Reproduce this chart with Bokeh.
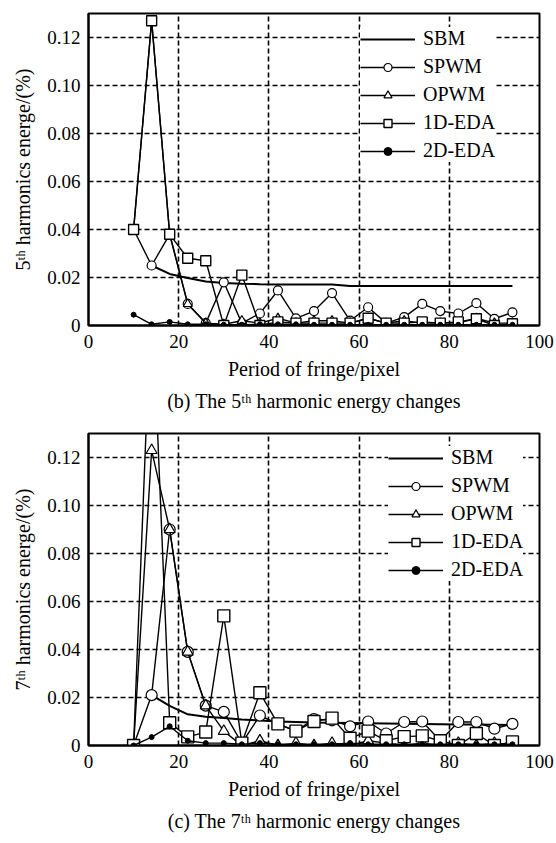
from bokeh.plotting import figure
from bokeh.layouts import column
from bokeh.models import Range1d, FixedTicker, Title, NumeralTickFormatter, LegendItem, Legend
from bokeh.embed import file_html
from bokeh.resources import INLINE

FONT = "'Liberation Serif', 'Times New Roman', serif"

# ---------------- data ----------------
X = [10, 14, 18, 22, 26, 30, 34, 38, 42, 46, 50, 54, 58, 62, 66, 70, 74, 78, 82, 86, 90, 94]
X_SBM = [14, 18, 22, 26, 30, 34, 38, 42, 46, 50, 54, 58, 62, 66, 70, 74, 78, 82, 86, 90, 94]
SERIES = ["SBM", "SPWM", "OPWM", "1D-EDA", "2D-EDA"]
X_TICKS = [0, 20, 40, 60, 80, 100]
Y_TICKS = [0, 0.02, 0.04, 0.06, 0.08, 0.10, 0.12]

# (b) 5th harmonic
sbm5 = [0.025, 0.0215, 0.0198, 0.0183, 0.0177, 0.0174, 0.0172, 0.0171, 0.0171, 0.0171, 0.0171,
        0.0165, 0.0165, 0.0165, 0.0165, 0.0165, 0.0165, 0.0165, 0.0165, 0.0165, 0.0165]
spwm5 = [0.040, 0.025, 0.038, 0.009, 0.001, 0.018, 0.001, 0.005, 0.0146, 0.003, 0.006,
         0.0135, 0.002, 0.0076, 0.001, 0.0035, 0.009, 0.006, 0.005, 0.0093, 0.0028, 0.0055]
opwm5 = [0.040, 0.127, 0.038, 0.009, 0.001, 0.0005, 0.002, 0.001, 0.003, 0.001, 0.002,
         0.002, 0.001, 0.003, 0.001, 0.002, 0.001, 0.001, 0.001, 0.003, 0.001, 0.001]
eda1_5 = [0.040, 0.127, 0.038, 0.028, 0.027, 0.000, 0.021, 0.000, 0.0015, 0.001, 0.001,
          0.001, 0.001, 0.003, 0.001, 0.001, 0.0015, 0.001, 0.0015, 0.0028, 0.000, 0.0007]
eda2_5 = [0.0045, 0.0005, 0.0015, 0.0005, 0.0005, 0.0003, 0.0003, 0.0005, 0.0005, 0.0005, 0.0003,
          0.0003, 0.0003, 0.0003, 0.0003, 0.0003, 0.0003, 0.0003, 0.0003, 0.0003, 0.0003, 0.0003]

# (c) 7th harmonic
sbm7 = [0.021, 0.0165, 0.013, 0.012, 0.0115, 0.0108, 0.0104, 0.0100, 0.0098, 0.0096, 0.0095,
        0.0094, 0.0093, 0.0092, 0.0091, 0.0090, 0.0089, 0.0088, 0.0087, 0.0086, 0.0085]
spwm7 = [0.0, 0.021, 0.090, 0.039, 0.0166, 0.014, 0.001, 0.0125, 0.009, 0.006, 0.011,
         0.0105, 0.008, 0.010, 0.005, 0.0098, 0.010, 0.002, 0.0098, 0.0098, 0.007, 0.009]
opwm7 = [0.0, 0.123, 0.090, 0.039, 0.0166, 0.006, 0.000, 0.002, 0.000, 0.001, 0.000,
         0.001, 0.000, 0.002, 0.001, 0.000, 0.001, 0.000, 0.001, 0.000, 0.001, 0.000]
eda1_7 = [0.0, 0.19, 0.0095, 0.0036, 0.0056, 0.054, 0.001, 0.022, 0.009, 0.006, 0.010,
          0.0114, 0.003, 0.006, 0.002, 0.0037, 0.004, 0.002, 0.000, 0.005, 0.000, 0.0015]
eda2_7 = [0.0, 0.0035, 0.008, 0.002, 0.001, 0.001, 0.0005, 0.001, 0.0005, 0.0005, 0.0005,
          0.0005, 0.001, 0.0005, 0.0005, 0.0005, 0.0005, 0.0005, 0.0005, 0.0005, 0.0005, 0.0005]

# off-frame anchor used only by the legend-sample markers
LEG_X = [-50]
LEG_Y = [-1]


def make(ylabel, caption, sbm, spwm, opwm, eda1, eda2, leg_loc, height, msize):
    p = figure(width=556, height=height, x_range=Range1d(0, 100), y_range=Range1d(0, 0.13),
               output_backend="svg", toolbar_location=None,
               min_border_left=88, min_border_right=17, min_border_top=13,
               min_border_bottom=height - 13 - 312)
    p.background_fill_color = "white"
    p.border_fill_color = "white"
    p.outline_line_color = "black"
    p.outline_line_width = 2

    for ax in (p.xaxis[0], p.yaxis[0]):
        ax.axis_line_width = 2
        ax.axis_line_color = "black"
        ax.major_tick_in = 0
        ax.major_tick_out = 0
        ax.minor_tick_in = 0
        ax.minor_tick_out = 0
        ax.major_label_text_font = FONT
        ax.major_label_text_font_size = "19px"
        ax.major_label_text_color = "black"
        ax.axis_label_text_font = FONT
        ax.axis_label_text_font_size = "20px"
        ax.axis_label_text_font_style = "normal"
        ax.axis_label_text_color = "black"

    p.xaxis.ticker = FixedTicker(ticks=X_TICKS)
    p.yaxis.ticker = FixedTicker(ticks=Y_TICKS)
    p.yaxis.formatter = NumeralTickFormatter(format="0.00")
    p.yaxis.major_label_overrides = {0: "0"}
    p.xaxis.major_label_standoff = 9
    p.yaxis.major_label_standoff = 8
    p.xaxis.axis_label = "Period of fringe/pixel"
    p.yaxis.axis_label = ylabel
    p.xaxis.axis_label_standoff = 7
    p.yaxis.axis_label_standoff = 10

    p.xgrid.ticker = FixedTicker(ticks=X_TICKS[1:-1])
    p.ygrid.ticker = FixedTicker(ticks=Y_TICKS[1:])
    for g in (p.xgrid[0], p.ygrid[0]):
        g.grid_line_color = "black"
        g.grid_line_width = 1.6
        g.grid_line_dash = "5 3"
        g.grid_line_alpha = 1

    lw = 1.4
    r_sbm = p.line(X_SBM, sbm, line_color="black", line_width=2)

    r_spwm = p.line(X, spwm, line_color="black", line_width=lw)
    p.scatter(X, spwm, marker="circle", size=msize, line_color="black", line_width=1.2,
              fill_color="white")

    r_opwm = p.line(X, opwm, line_color="black", line_width=lw)
    p.scatter(X, opwm, marker="triangle", size=msize, line_color="black", line_width=1.2,
              fill_color="white")

    r_e1 = p.line(X, eda1, line_color="black", line_width=lw)
    p.scatter(X, eda1, marker="square", size=msize + 1, line_color="black", line_width=1.4,
              fill_color="white")

    r_e2 = p.line(X, eda2, line_color="black", line_width=lw)
    p.scatter(X, eda2, marker="circle", size=5, line_color="black", fill_color="black")

    # legend-sample markers (drawn off-frame; only their legend samples are seen)
    l_spwm = p.scatter(LEG_X, LEG_Y, marker="circle", size=17, line_color="black",
                       line_width=1.2, fill_color="white")
    l_opwm = p.scatter(LEG_X, LEG_Y, marker="triangle", size=18, line_color="black",
                       line_width=1.2, fill_color="white")
    l_e1 = p.scatter(LEG_X, LEG_Y, marker="square", size=20, line_color="black",
                     line_width=1.4, fill_color="white")
    l_e2 = p.scatter(LEG_X, LEG_Y, marker="circle", size=11, line_color="black",
                     fill_color="black")

    items = [
        LegendItem(label=SERIES[0], renderers=[r_sbm]),
        LegendItem(label=SERIES[1], renderers=[r_spwm, l_spwm]),
        LegendItem(label=SERIES[2], renderers=[r_opwm, l_opwm]),
        LegendItem(label=SERIES[3], renderers=[r_e1, l_e1]),
        LegendItem(label=SERIES[4], renderers=[r_e2, l_e2]),
    ]
    lg = Legend(items=items)
    p.add_layout(lg, "center")
    lg.location = leg_loc
    lg.border_line_color = None
    lg.background_fill_color = "white"
    lg.background_fill_alpha = 1
    lg.padding = 10
    lg.margin = 0
    lg.spacing = 5
    lg.glyph_width = 55
    lg.glyph_height = 20
    lg.label_height = 20
    lg.label_standoff = 8
    lg.label_text_font = FONT
    lg.label_text_font_size = "20px"
    lg.label_text_color = "black"

    t = Title(text=caption, align="center", text_font=FONT, text_font_size="20px",
              text_font_style="normal", text_color="black")
    p.add_layout(t, "below")
    return p


p1 = make("5\u1d57\u02b0 harmonics energe/(%)", "(b) The 5\u1d57\u02b0 harmonic energy changes",
          sbm5, spwm5, opwm5, eda1_5, eda2_5, (272, 163), 420, 9)
p2 = make("7\u1d57\u02b0 harmonics energe/(%)", "(c) The 7\u1d57\u02b0 harmonic energy changes",
          sbm7, spwm7, opwm7, eda1_7, eda2_7, (300, 164), 423, 11)

layout = column(p1, p2, spacing=0)
open("out.html", "w").write(file_html(layout, INLINE))
